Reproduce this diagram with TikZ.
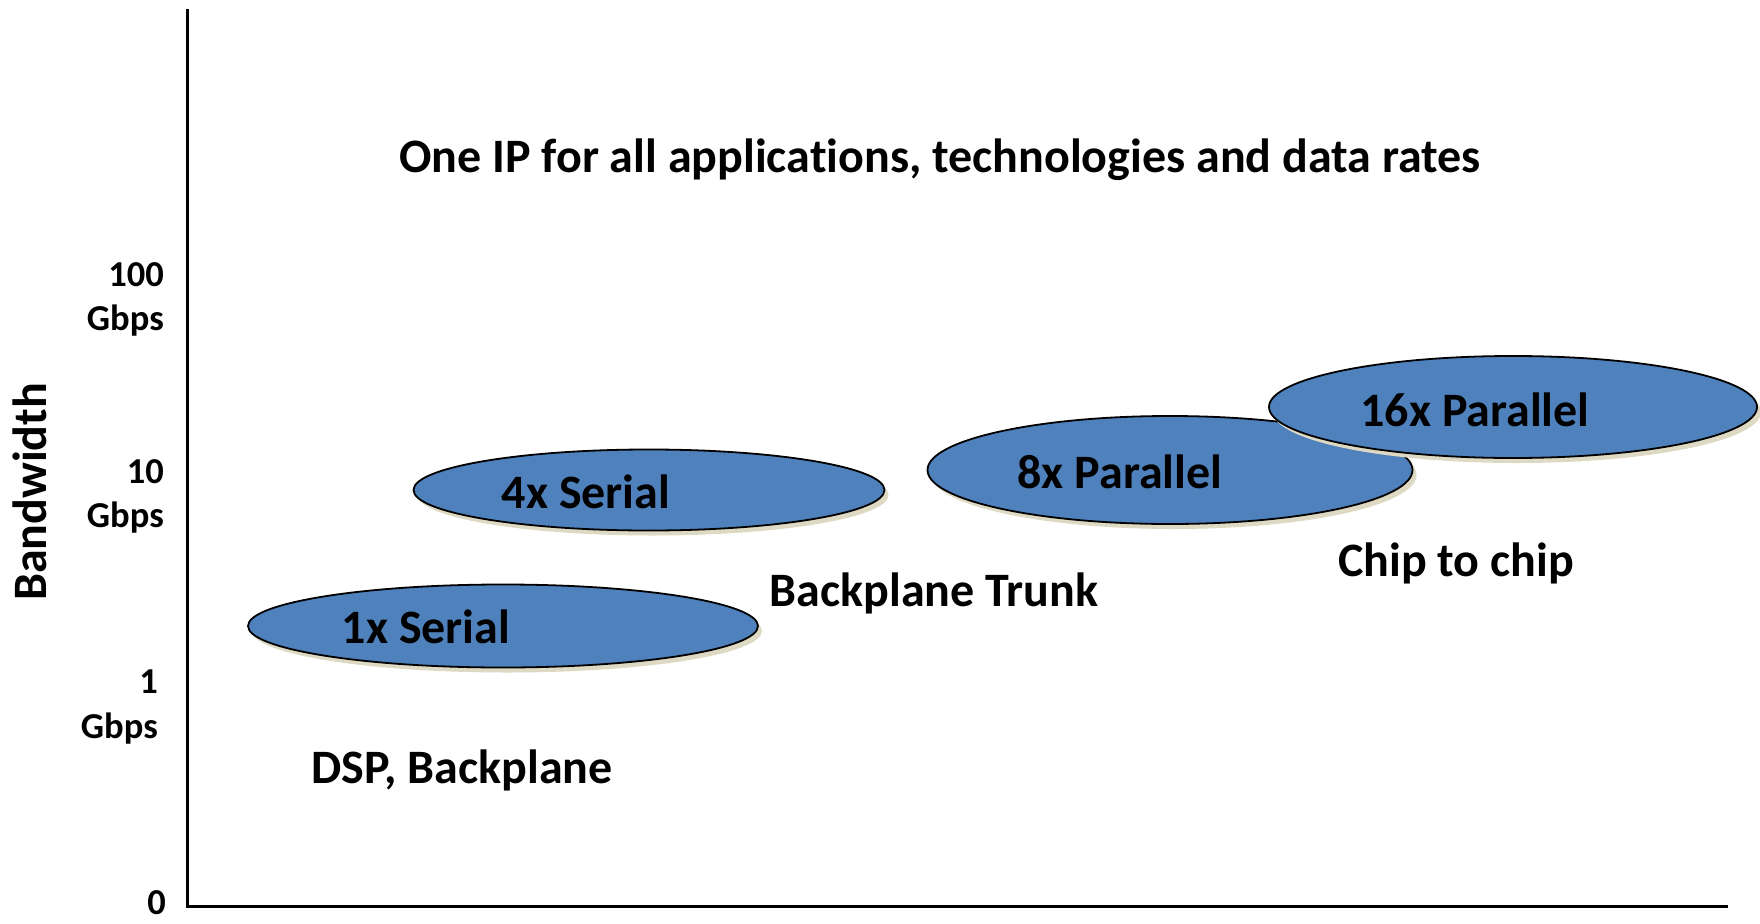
\documentclass[tikz,border=0pt]{standalone}
\usepackage{fontspec}
\setmainfont{Carlito}[Ligatures={NoCommon}]
\usetikzlibrary{shapes.geometric,shadows}
\definecolor{bubble}{HTML}{4F81BD}
\definecolor{bubbleshade}{HTML}{DDD9C3}
\begin{document}
\begin{tikzpicture}[x=1pt,y=-1pt,
  axis/.style={line width=3pt},
  bigtext/.style={font=\bfseries\fontsize{48}{57}\selectfont, inner sep=0pt},
  ticktext/.style={font=\bfseries\fontsize{36.5}{43}\selectfont, inner sep=0pt, anchor=east},
  bubblenode/.style={ellipse, draw=black, line width=1.8pt, fill=bubble, inner sep=0pt,
    drop shadow={shadow xshift=4pt, shadow yshift=-5pt, fill=bubbleshade, opacity=1}}]
\useasboundingbox (0,0) rectangle (1760,923);

% axes
\coordinate (top) at (187,9);
\coordinate (origin) at (187,906);
\coordinate (right) at (1728,906);
\draw[axis] (top) -- (origin) -- (right);

% axis labels
\node[bigtext, rotate=90] (ylab) at (30,492) {Bandwidth};
\node[ticktext] (t100) at (164,275) {100};
\node[ticktext] (g100) at (164,321) {Gbps};
\node[ticktext] (t10) at (164,472) {10};
\node[ticktext] (g10) at (164,518) {Gbps};
\node[ticktext] (t1) at (158,682) {1};
\node[ticktext] (g1) at (158,729) {Gbps};
\node[ticktext] (t0) at (166,903) {0};

% title
\node[bigtext] (title) at (940,160) {One IP for all applications, technologies and data rates};

% interface bubbles
\node[bubblenode, minimum width=510pt, minimum height=83pt] (s1) at (503,626) {};
\node[bigtext] (s1t) at (426,627) {1x Serial};
\node[bubblenode, minimum width=471pt, minimum height=81pt] (s4) at (649,490) {};
\node[bigtext] (s4t) at (586,492) {4x Serial};
\node[bubblenode, minimum width=485pt, minimum height=108pt] (p8) at (1170,470) {};
\node[bigtext] (p8t) at (1120,472) {8x Parallel};
\node[bubblenode, minimum width=488pt, minimum height=102pt] (p16) at (1513,407) {};
\node[bigtext] (p16t) at (1475,410) {16x Parallel};

% application labels
\node[bigtext] (dsp) at (462,770) {DSP, Backplane};
\node[bigtext] (trunk) at (934,593) {Backplane Trunk};
\node[bigtext] (chip) at (1456,563) {Chip to chip};
\end{tikzpicture}
\end{document}
